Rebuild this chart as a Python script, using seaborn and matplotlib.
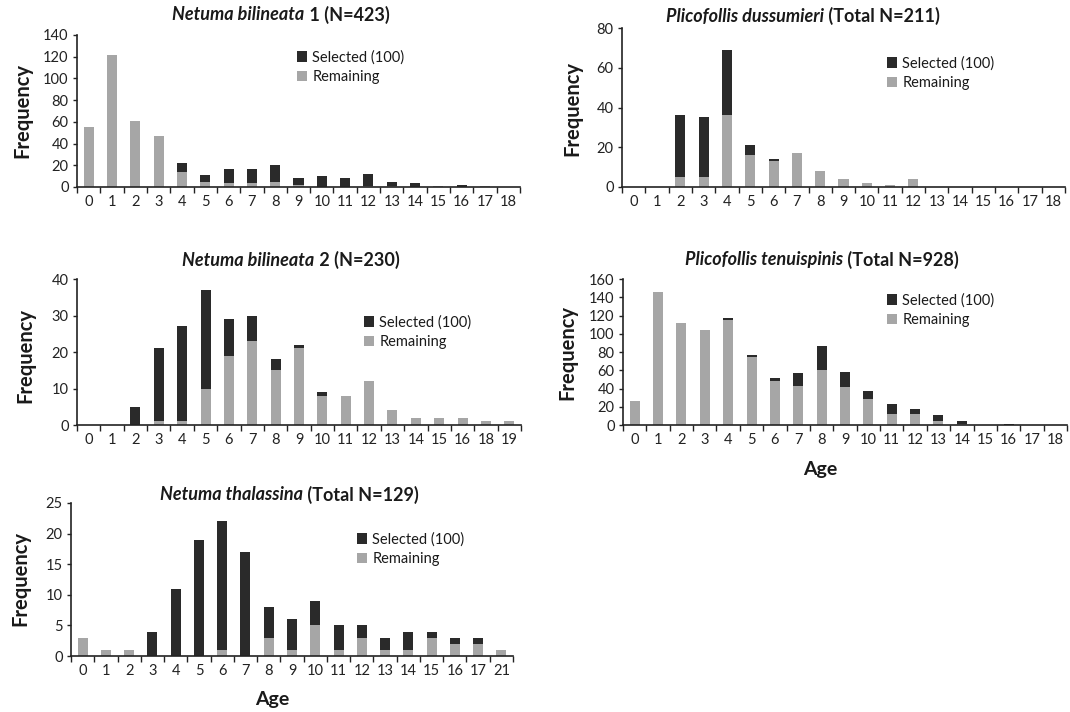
import numpy as np
import pandas as pd
import matplotlib
matplotlib.use("Agg")
import matplotlib.pyplot as plt
import seaborn as sns
from matplotlib.patches import Patch

# ---------------- data ----------------
nb1_ages = ["0", "1", "2", "3", "4", "5", "6", "7", "8", "9", "10", "11", "12", "13", "14", "15", "16", "17", "18"]
nb1_selected = [0, 0, 0, 0, 8, 6, 13, 13, 15, 6, 10, 8, 11, 4, 4, 0, 2, 0, 0]
nb1_remaining = [55, 122, 61, 47, 14, 5, 4, 4, 5, 2, 0, 0, 1, 1, 0, 1, 0, 1, 0]

pd_ages = ["0", "1", "2", "3", "4", "5", "6", "7", "8", "9", "10", "11", "12", "13", "14", "15", "16", "17", "18"]
pd_selected = [0, 0, 31, 30, 33, 5, 1, 0, 0, 0, 0, 0, 0, 0, 0, 0, 0, 0, 0]
pd_remaining = [0, 0, 5, 5, 36, 16, 13, 17, 8, 4, 2, 1, 4, 0, 0, 0, 0, 0, 0]

nb2_ages = ["0", "1", "2", "3", "4", "5", "6", "7", "8", "9", "10", "11", "12", "13", "14", "15", "16", "18", "19"]
nb2_selected = [0, 0, 5, 20, 26, 27, 10, 7, 3, 1, 1, 0, 0, 0, 0, 0, 0, 0, 0]
nb2_remaining = [0, 0, 0, 1, 1, 10, 19, 23, 15, 21, 8, 8, 12, 4, 2, 2, 2, 1, 1]

pt_ages = ["0", "1", "2", "3", "4", "5", "6", "7", "8", "9", "10", "11", "12", "13", "14", "15", "16", "17", "18"]
pt_selected = [0, 0, 0, 0, 2, 2, 3, 14, 27, 16, 9, 11, 5, 7, 3, 0, 1, 0, 0]
pt_remaining = [26, 146, 112, 104, 115, 75, 48, 43, 60, 42, 28, 12, 12, 4, 1, 0, 0, 0, 0]

nt_ages = ["0", "1", "2", "3", "4", "5", "6", "7", "8", "9", "10", "11", "12", "13", "14", "15", "16", "17", "21"]
nt_selected = [0, 0, 0, 4, 11, 19, 21, 17, 5, 5, 4, 4, 2, 2, 3, 1, 1, 1, 0]
nt_remaining = [3, 1, 1, 0, 0, 0, 1, 0, 3, 1, 5, 1, 3, 1, 1, 3, 2, 2, 1]

legend_labels = ["Selected (100)", "Remaining"]

# ---------------- style ----------------
DARK = "#2a2a2a"
GRAY = "#a6a6a6"
TXT = "#1a1a1a"
W, H = 1070, 712
TICK_FS = 10.5
LEG_FS = 10.5

sns.set_style("ticks")
plt.rcParams["font.family"] = ["Lato", "DejaVu Sans"]
plt.rcParams["text.color"] = TXT
plt.rcParams["axes.labelcolor"] = TXT
plt.rcParams["xtick.color"] = "#222222"
plt.rcParams["ytick.color"] = "#222222"

fig = plt.figure(figsize=(W / 100, H / 100), dpi=100)


def fx(px):
    return px / W


def fy(py):
    return 1 - py / H


def panel(rect_px, ages, sel, rem, ymax, ystep, legend_px, ylabel_px, xlabel_px=None):
    left, top, right, bottom = rect_px
    ax = fig.add_axes([fx(left), fy(bottom), (right - left) / W, (bottom - top) / H])
    df = pd.DataFrame({"Age": ages, "Selected": sel, "Remaining": rem})
    df["Total"] = df["Selected"] + df["Remaining"]
    sns.barplot(data=df, x="Age", y="Total", order=ages, color=DARK, width=0.43,
                saturation=1, errorbar=None, linewidth=0, ax=ax)
    sns.barplot(data=df, x="Age", y="Remaining", order=ages, color=GRAY, width=0.43,
                saturation=1, errorbar=None, linewidth=0, ax=ax)
    n = len(ages)
    ax.set_xlim(-0.5, n - 0.5)
    ax.set_ylim(0, ymax)
    ax.set_yticks(np.arange(0, ymax + 0.1, ystep))
    ax.set_xticks(np.arange(-0.5, n, 1), minor=True)
    ax.tick_params(axis="x", which="major", length=0, pad=6, labelsize=TICK_FS)
    ax.tick_params(axis="x", which="minor", length=4, width=1, direction="out")
    ax.tick_params(axis="y", which="major", length=3, width=1, direction="out", pad=3, labelsize=TICK_FS)
    sns.despine(ax=ax)
    for s in ("left", "bottom"):
        ax.spines[s].set_color("#222222")
        ax.spines[s].set_linewidth(1.2)
    ax.set_xlabel("")
    ax.set_ylabel("")
    fig.text(fx(ylabel_px[0]), fy(ylabel_px[1]), "Frequency", rotation=90, ha="center", va="center",
             fontsize=14.5, fontweight="bold")
    if xlabel_px is not None:
        fig.text(fx(xlabel_px[0]), fy(xlabel_px[1]), "Age", ha="center", va="center",
                 fontsize=14, fontweight="bold")
    handles = [Patch(facecolor=DARK, edgecolor="none", label=legend_labels[0]),
               Patch(facecolor=GRAY, edgecolor="none", label=legend_labels[1])]
    ax.legend(handles=handles, loc="center left", bbox_to_anchor=(fx(legend_px[0]), fy(legend_px[1])),
              bbox_transform=fig.transFigure, frameon=False, fontsize=LEG_FS, handlelength=0.7,
              handleheight=0.7, handletextpad=0.35, labelspacing=0.35, borderpad=0, borderaxespad=0)
    return ax


def two_part_title(xc, yc, italic_part, normal_part, size=13):
    t1 = fig.text(0, fy(yc), italic_part, style="italic", fontweight="bold", fontsize=size,
                  ha="left", va="center")
    t2 = fig.text(0, fy(yc), normal_part, fontweight="bold", fontsize=size, ha="left", va="center")
    r = fig.canvas.get_renderer()
    w1 = t1.get_window_extent(r).width
    w2 = t2.get_window_extent(r).width
    x0 = xc - (w1 + w2) / 2
    t1.set_x(fx(x0))
    t2.set_x(fx(x0 + w1))


panel((77, 35, 520, 187), nb1_ages, nb1_selected, nb1_remaining, 140, 20, (297, 67), (22, 110))
panel((622, 28, 1065, 187), pd_ages, pd_selected, pd_remaining, 80, 20, (887, 73), (572, 108))
panel((77, 279, 521, 425), nb2_ages, nb2_selected, nb2_remaining, 40, 10, (364, 332), (25, 355))
panel((623, 279, 1067, 425), pt_ages, pt_selected, pt_remaining, 160, 20, (887, 310), (567, 352), (820, 470))
panel((71, 503, 513, 656), nt_ages, nt_selected, nt_remaining, 25, 5, (357, 549), (20, 578), (272, 700))

two_part_title(281, 15, "Netuma bilineata", " 1 (N=423)")
two_part_title(803, 16, "Plicofollis dussumieri", " (Total N=211)")
two_part_title(291, 260, "Netuma bilineata", " 2 (N=230)")
two_part_title(822, 260, "Plicofollis tenuispinis", " (Total N=928)")
two_part_title(289, 495, "Netuma thalassina", " (Total N=129)")

fig.savefig("out.png", dpi=100)
